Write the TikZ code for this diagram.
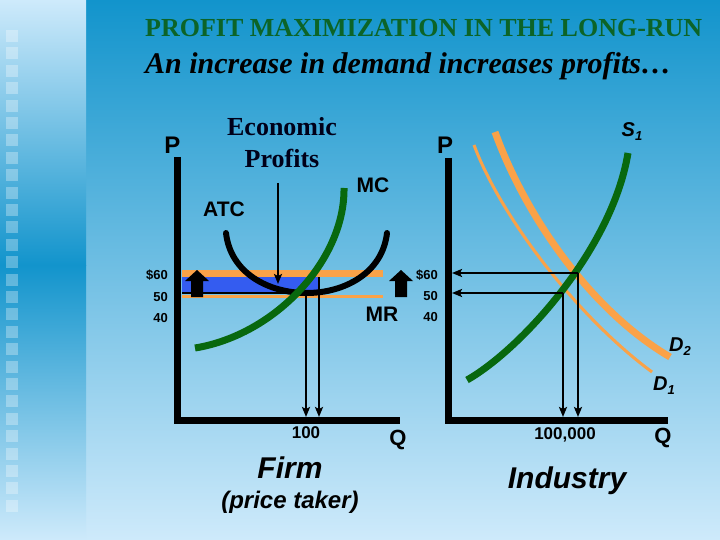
\documentclass[tikz,border=0pt]{standalone}
\usepackage{fontspec}
\setmainfont{Liberation Serif}
\setsansfont{Liberation Sans}
\usetikzlibrary{arrows.meta}
\definecolor{bgtop}{RGB}{18,148,204}
\definecolor{bgbot}{RGB}{206,234,251}
\definecolor{titlegreen}{RGB}{12,100,40}
\definecolor{curvegreen}{RGB}{8,104,14}
\definecolor{orangeline}{RGB}{250,162,72}
\definecolor{profitblue}{RGB}{52,92,240}
\newcommand{\fsz}[1]{\fontsize{#1}{#1}\selectfont}
\begin{document}
\begin{tikzpicture}[x=1pt,y=-1pt,
  lab/.style={font=\sffamily\bfseries\fsz{21}, inner sep=0pt, anchor=base},
  ticklab/.style={font=\sffamily\bfseries\fsz{13}, inner sep=0pt, anchor=east},
  qlab/.style={font=\sffamily\bfseries\fsz{17}, inner sep=0pt, anchor=base},
  caption/.style={font=\sffamily\bfseries\itshape\fsz{30}, inner sep=0pt, anchor=base},
  axisline/.style={line width=7pt, line join=miter},
  guide/.style={line width=2pt, -{Stealth[length=10pt,width=8pt,inset=2pt]}},
  thickcurve/.style={line width=7pt},
  blockarrow/.style={fill=black},
]
\useasboundingbox (0,0) rectangle (720,540);
% background
\shade[top color=bgtop, bottom color=bgbot] (86,0) rectangle (720,540);
\shade[top color=bgbot, bottom color=bgtop] (0,0) rectangle (86,265);
\shade[top color=bgtop, bottom color=bgbot] (0,265) rectangle (86,540);
\foreach \i in {0,...,27} \fill[white,opacity=0.3] (6,{30+17.4*\i}) rectangle ++(12,12);
% titles
\node[font=\bfseries\fsz{26}, text=titlegreen, anchor=base west, inner sep=0pt] (title) at (145,37) {PROFIT MAXIMIZATION IN THE LONG-RUN};
\node[font=\bfseries\itshape\fsz{30}, anchor=base west, inner sep=0pt] (subtitle) at (145,74) {An increase in demand increases profits\ldots};

% ===== Firm graph =====
\coordinate (fTop) at (177.5,157);
\coordinate (fO) at (177.5,420);
\coordinate (fEnd) at (400,420);
\draw[axisline] (fTop) -- (fO) -- (fEnd);
\node[lab, font=\sffamily\bfseries\fsz{24}] (fP) at (172.5,154) {P};

\draw[orangeline, line width=7pt] (182,273.5) -- (383,273.5);
\fill[profitblue] (182,277) rectangle (319,293);
\draw[orangeline, line width=3pt] (182,296) -- (383,296);
\draw[line width=1.5pt] (182,293) -- (319,293);

\coordinate (q1top) at (306,293);
\coordinate (q1bot) at (306,417);
\coordinate (q2top) at (319,277);
\coordinate (q2bot) at (319,417);
\draw[guide] (q1top) -- (q1bot);
\draw[guide] (q2top) -- (q2bot);

% ATC
\draw[line width=6pt, line cap=round] (226,233) .. controls (235,313) and (378,313) .. (387,233);
% MC
\draw[curvegreen, thickcurve] (195,348) .. controls (275,335) and (345,260) .. (344,188);

\node[align=center, font=\bfseries\fsz{26}, inner sep=0pt, text=black!90!blue] (ep) at (282,143) {Economic\\[6pt]Profits};
\coordinate (epTip) at (278,284);
\draw[guide] (278,183) -- (epTip);

\node[lab] (atc) at (224,216) {ATC};
\node[lab] (mc) at (373,193) {MC};
\node[lab] (mr) at (382,321) {MR};

\fill[blockarrow] (191,297) -- (191,281) -- (185,281) -- (197,270) -- (209,281) -- (203,281) -- (203,297) -- cycle;
\fill[blockarrow] (395,297) -- (395,281) -- (389,281) -- (401,270) -- (413,281) -- (407,281) -- (407,297) -- cycle;

\node[ticklab] (f60) at (168,275) {\$60};
\node[ticklab] (f50) at (168,297) {50};
\node[ticklab] (f40) at (168,318) {40};

\node[qlab] (f100) at (306,438) {100};
\node[lab, font=\sffamily\bfseries\fsz{22}] (fQ) at (398,445) {Q};
\node[caption, font=\sffamily\bfseries\itshape\fsz{30}] (firm) at (290,478) {Firm};
\node[caption, font=\sffamily\bfseries\itshape\fsz{24}] (pt) at (290,508) {(price taker)};

% ===== Industry graph =====
\coordinate (iTop) at (448,158);
\coordinate (iO) at (448,420);
\coordinate (iEnd) at (668,420);
\draw[axisline] (iTop) -- (iO) -- (iEnd);
\node[lab, font=\sffamily\bfseries\fsz{24}] (iP) at (445,154) {P};

% D1 thin, D2 thick
\draw[orangeline, line width=3pt] (474,145) .. controls (500,215) and (575,315) .. (652,372);
\draw[orangeline, line width=7pt] (495,132) .. controls (525,215) and (590,310) .. (670,357);
% S1
\draw[curvegreen, thickcurve] (467,380) .. controls (520,350) and (612,250) .. (628,153);

\coordinate (e2) at (578,273);
\coordinate (e1) at (563,293);
\coordinate (p60) at (452,273);
\coordinate (p50) at (452,293);
\coordinate (q2) at (578,417);
\coordinate (q1) at (563,417);
\draw[guide] (e2) -- (p60);
\draw[guide] (e1) -- (p50);
\draw[guide] (e2) -- (q2);
\draw[guide] (e1) -- (q1);

\node[ticklab] (i60) at (438,275) {\$60};
\node[ticklab] (i50) at (438,296) {50};
\node[ticklab] (i40) at (438,317) {40};

\node[font=\sffamily\bfseries\itshape\fsz{20}, inner sep=0pt] (s1) at (632,132) {S\raisebox{-4pt}{\fsz{13}1}};
\node[font=\sffamily\bfseries\itshape\fsz{20}, inner sep=0pt] (d2) at (680,347) {D\raisebox{-4pt}{\fsz{13}2}};
\node[font=\sffamily\bfseries\itshape\fsz{20}, inner sep=0pt] (d1) at (664,386) {D\raisebox{-4pt}{\fsz{13}1}};

\node[qlab] (i100k) at (565,439) {100,000};
\node[lab, font=\sffamily\bfseries\fsz{22}] (iQ) at (663,443) {Q};
\node[caption] (industry) at (567,488) {Industry};
\end{tikzpicture}
\end{document}
